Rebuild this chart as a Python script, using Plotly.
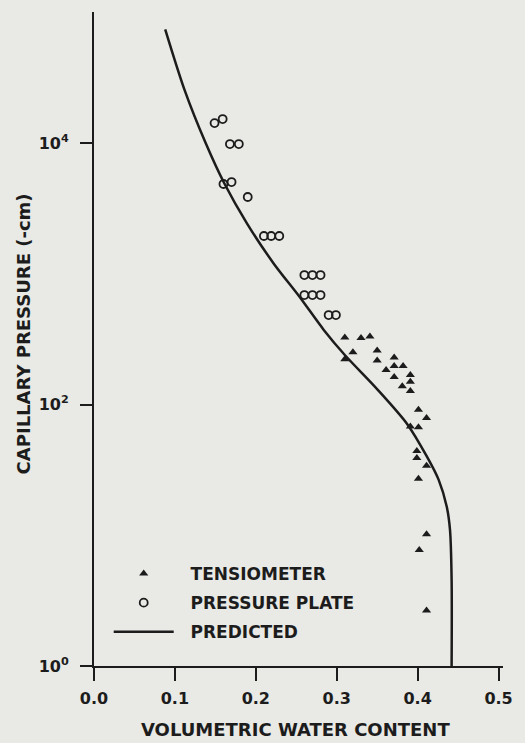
import plotly.graph_objects as go

# Tensiometer readings: volumetric water content vs capillary pressure (-cm)
tens_theta = [0.310, 0.330, 0.341, 0.320, 0.310, 0.350, 0.350, 0.371, 0.371,
              0.361, 0.382, 0.371, 0.391, 0.391, 0.381, 0.391, 0.401, 0.411,
              0.391, 0.401, 0.399, 0.399, 0.411, 0.401, 0.411, 0.402, 0.411]
tens_h = [325, 323, 331, 251, 222, 259, 217, 229, 197,
          184, 197, 162, 168, 149, 138, 127, 91, 79,
          68, 67, 44, 39, 34, 27, 10.2, 7.7, 2.66]

# Pressure plate readings
plate_theta = [0.149, 0.159, 0.168, 0.179, 0.160, 0.170, 0.190,
               0.210, 0.219, 0.229, 0.260, 0.270, 0.280,
               0.260, 0.270, 0.280, 0.290, 0.299]
plate_h = [14200, 15250, 9820, 9820, 4860, 5030, 3865,
           1945, 1945, 1945, 977, 977, 977,
           687, 687, 687, 483, 483]

# Predicted retention curve
pred_theta = [0.088, 0.112, 0.138, 0.161, 0.189, 0.222, 0.254, 0.284, 0.310,
              0.351, 0.387, 0.411, 0.426, 0.436, 0.440, 0.442, 0.442]
pred_h = [74100, 25400, 10000, 4920, 2430, 1200, 667, 372, 239,
          129, 71, 40.4, 26.5, 16.5, 11.0, 4.55, 1]

x_ticks = [0.0, 0.1, 0.2, 0.3, 0.4, 0.5]
x_tick_text = ["0.0", "0.1", "0.2", "0.3", "0.4", "0.5"]
y_ticks = [1, 100, 10000]
y_tick_text = ["10<sup>0</sup>", "10<sup>2</sup>", "10<sup>4</sup>"]

INK = "#1c1c1c"
BG = "#e9e9e5"
FONT = "DejaVu Sans"
PAD = "\u00a0\u00a0"

fig = go.Figure()
fig.add_trace(go.Scatter(
    x=tens_theta, y=tens_h, mode="markers", name=PAD + "TENSIOMETER", legendgroup="a",
    marker=dict(symbol="triangle-up", size=8, color=INK, line=dict(width=0)),
))
fig.add_trace(go.Scatter(
    x=plate_theta, y=plate_h, mode="markers", name=PAD + "PRESSURE PLATE", legendgroup="b",
    marker=dict(symbol="circle-open", size=8, color=INK, line=dict(width=1.8, color=INK)),
))
fig.add_trace(go.Scatter(
    x=pred_theta, y=pred_h, mode="lines", name=PAD + "PREDICTED", legendgroup="c",
    line=dict(color=INK, width=2.5, shape="spline", smoothing=0.8),
))

axis_font = dict(family=FONT, size=16, color=INK, weight="bold")

fig.update_layout(
    width=525, height=743,
    margin=dict(l=94, r=14, t=12, b=77),
    paper_bgcolor=BG, plot_bgcolor=BG,
    font=dict(family=FONT, color=INK, weight="bold"),
    showlegend=True,
    legend=dict(
        x=(109 - 94) / 417, y=(666 - 556) / 654, xanchor="left", yanchor="top",
        bgcolor="rgba(0,0,0,0)", font=dict(family=FONT, size=17, color=INK, weight="bold"),
        itemwidth=60, traceorder="grouped", tracegroupgap=4,
    ),
    xaxis=dict(
        range=[0, 0.5055], showgrid=False, zeroline=False,
        showline=True, linecolor=INK, linewidth=2,
        ticks="outside", ticklen=13, tickwidth=2, tickcolor=INK,
        tickvals=x_ticks, ticktext=x_tick_text, tickfont=axis_font,
        ticklabelstandoff=4,
    ),
    yaxis=dict(
        type="log", range=[0, 5.002], showgrid=False, zeroline=False,
        showline=True, linecolor=INK, linewidth=2,
        ticks="outside", ticklen=12, tickwidth=2, tickcolor=INK,
        tickvals=y_ticks, ticktext=y_tick_text, tickfont=axis_font,
        ticklabelstandoff=8,
    ),
    annotations=[
        dict(text="VOLUMETRIC WATER CONTENT", xref="paper", yref="paper",
             x=(299 - 94) / 417, y=(666 - 729) / 654, xanchor="center", yanchor="middle",
             showarrow=False, font=dict(family=FONT, size=18, color=INK, weight="bold")),
        dict(text="CAPILLARY PRESSURE (-cm)", xref="paper", yref="paper",
             x=(22 - 94) / 417, y=(666 - 334) / 654, xanchor="center", yanchor="middle",
             textangle=-90, showarrow=False,
             font=dict(family=FONT, size=18, color=INK, weight="bold")),
    ],
)

fig.write_html("out.html")
